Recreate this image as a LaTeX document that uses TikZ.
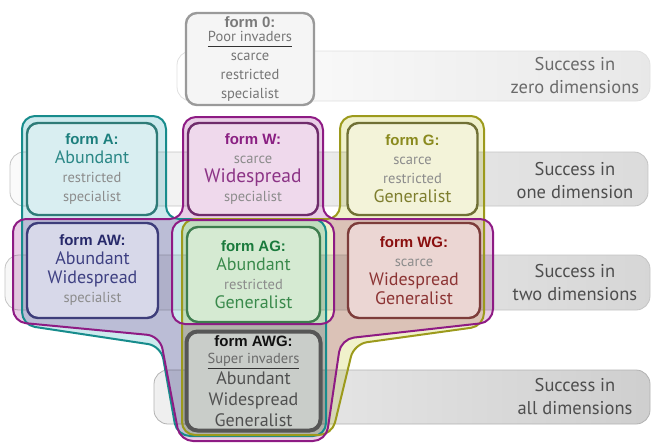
\documentclass[tikz,border=0pt]{standalone}
\usepackage{fontspec}
\setmainfont{PT Sans}
\newfontfamily\headfont{Liberation Sans}

% Group outlines.
\definecolor{tealline}{HTML}{178C8C}
\definecolor{tealfill}{HTML}{CDEAEE}
\definecolor{purpline}{HTML}{8E1B84}
\definecolor{purpfill}{HTML}{E9CEE6}
\definecolor{oliveline}{HTML}{9C9A1C}
\definecolor{olivefill}{HTML}{F0F1CB}
% Form boxes: line, fill, head and trait colours.
\definecolor{Aline}{HTML}{2F7B78}\definecolor{Afill}{HTML}{D9EEF1}
\definecolor{Ahead}{HTML}{1C7F7D}\definecolor{Atrait}{HTML}{2A8786}
\definecolor{Wline}{HTML}{6F2C6B}\definecolor{Wfill}{HTML}{EFD9EC}
\definecolor{Whead}{HTML}{8A1F82}\definecolor{Wtrait}{HTML}{8C3486}
\definecolor{Gline}{HTML}{707035}\definecolor{Gfill}{HTML}{F3F3D9}
\definecolor{Ghead}{HTML}{8A8A1E}\definecolor{Gtrait}{HTML}{7E7E2E}
\definecolor{AWline}{HTML}{3D3D7A}\definecolor{AWfill}{HTML}{D7D8E9}
\definecolor{AWhead}{HTML}{27296A}\definecolor{AWtrait}{HTML}{3E4082}
\definecolor{AGline}{HTML}{3E7D4E}\definecolor{AGfill}{HTML}{D5EAD2}
\definecolor{AGhead}{HTML}{1A7A3C}\definecolor{AGtrait}{HTML}{3A8A4C}
\definecolor{WGline}{HTML}{7D3C3A}\definecolor{WGfill}{HTML}{EBD6D3}
\definecolor{WGhead}{HTML}{8A0F0F}\definecolor{WGtrait}{HTML}{8C3434}
\definecolor{AWGline}{HTML}{565656}\definecolor{AWGfill}{HTML}{C9CDC9}
\definecolor{AWGhead}{HTML}{111111}\definecolor{AWGtrait}{HTML}{505050}
\definecolor{Zeroline}{HTML}{9A9A9A}\definecolor{Zerofill}{HTML}{F5F5F5}
\definecolor{Zerohead}{HTML}{7A7A7A}\definecolor{Zerotrait}{HTML}{767676}
\definecolor{weakgray}{HTML}{8C8C8C}
\definecolor{bandline}{HTML}{C4C4C4}
\definecolor{bandtext}{HTML}{4E4E4E}

% Text of the form boxes.
\newcommand\formhead[2]{{\headfont\bfseries\fontsize{15}{19}\selectfont\color{#1}#2}}
\newcommand\trait[2]{{\fontsize{18}{19}\selectfont\color{#1}#2}}
\newcommand\weak[1]{{\fontsize{14.5}{19}\selectfont\color{weakgray}#1}}
\newcommand\invaders[1]{\leavevmode\setbox0=\hbox{#1}%
  \rlap{\color{black!80}\rule[-6pt]{\wd0}{1.2pt}}\box0}

\usetikzlibrary{
  calc
}
\tikzset{
  globals/box width/.initial=130pt,
  globals/box height/.initial=92pt,
%
  % For the bands of success.
  band/.style={
    draw=bandline,
    line width=0.8pt,
    rounded corners=14pt,
    shading angle=90},
%
  % For the text in the bands.
  band text/.style={
    align=center,
    text=bandtext,
    font={\fontsize{18.5}{23}\selectfont}},
%
  % For the group fills; they multiply where they overlap.
  group fill/.style={
    fill=#1,
    blend mode=multiply,
    rounded corners=13pt},
%
  % For the group outlines.
  group line/.style={
    draw=#1,
    line width=2pt,
    rounded corners=13pt},
%
  % For the form boxes.
  form box/.style={
    draw=#1line,
    fill=#1fill,
    line width=2.4pt,
    rounded corners=11pt,
    minimum width=\pgfkeysvalueof{/tikz/globals/box width},
    minimum height=\pgfkeysvalueof{/tikz/globals/box height},
    inner sep=0pt,
    align=center,
    font={\fontsize{14.5}{19}\selectfont}}
}

\begin{document}
\begin{tikzpicture}[x=1pt,y=-1pt]
  \useasboundingbox (0,0) rectangle (652,442);

  % Bands, one for each level of success.
  \draw[band, left color=white, right color=black!9, draw=black!12]
    (177,51) rectangle (650,101);
  \draw[band, left color=black!2, right color=black!14]
    (10,152) rectangle (648,206);
  \draw[band, left color=black!3, right color=black!16]
    (5,255) rectangle (650,310);
  \draw[band, left color=black!6, right color=black!19, draw=black!30]
    (154,370) rectangle (650,424);

  \node[band text, text=black!58] (level0) at (575,76) {Success in\\zero dimensions};
  \node[band text] (level1) at (575,180.5) {Success in\\one dimension};
  \node[band text] (level2) at (575,283) {Success in\\two dimensions};
  \node[band text] (level3) at (575,396.5) {Success in\\all dimensions};

  % Groups: Abundant, Widespread and Generalist.
  \def\groupA{(22,116) -- (166,116) -- (166,219) -- (326,219) -- (326,436)
    -- (177,436) -- (161,346) -- (22,325) -- cycle}
  \def\groupW{(13,219) -- (183,219) -- (183,117) -- (323,117) -- (323,219)
    -- (493,219) -- (493,322) -- (341,339) -- (326,441) -- (180,441)
    -- (160,336) -- (13,322) -- cycle}
  \def\holeW{(172,220) rectangle (334,324)}
  \def\groupG{(182,219) -- (340,219) -- (340,116) -- (484,116) -- (484,326)
    -- (354,344) -- (332,435) -- (182,435) -- cycle}

  \fill[group fill=tealfill] \groupA;
  \fill[group fill=purpfill, even odd rule] \groupW \holeW;
  \fill[group fill=olivefill] \groupG;

  \draw[group line=tealline] \groupA;
  \draw[group line=oliveline] \groupG;
  \draw[group line=purpline] \groupW \holeW;

  % Forms.
  \node[form box=Zero, minimum width=128pt] (form0) at (250,59)
    {\formhead{Zerohead}{form 0:}\\[-5pt]
     \textcolor{Zerotrait}{\invaders{Poor invaders}}\\
     \textcolor{Zerotrait}{scarce}\\
     \textcolor{Zerotrait}{restricted}\\
     \textcolor{Zerotrait}{specialist}};

  \node[form box=A] (formA) at (92,169)
    {\formhead{Ahead}{form A:}\\
     \trait{Atrait}{Abundant}\\
     \weak{restricted}\\
     \weak{specialist}};
  \node[form box=W] (formW) at (253,169)
    {\formhead{Whead}{form W:}\\
     \weak{scarce}\\
     {\fontsize{19.5}{19}\selectfont\color{Wtrait}Widespread}\\
     \weak{specialist}};
  \node[form box=G] (formG) at (412.5,169)
    {\formhead{Ghead}{form G:}\\
     \weak{scarce}\\
     \weak{restricted}\\
     \trait{Gtrait}{Generalist}};

  \node[form box=AW, minimum width=131pt, minimum height=95pt] (formAW) at (92.5,270.5)
    {\formhead{AWhead}{form AW:}\\
     \trait{AWtrait}{Abundant}\\
     \trait{AWtrait}{Widespread}\\
     \weak{specialist}};
  \node[form box=AG, minimum width=133pt, minimum height=95pt] (formAG) at (253.5,274.5)
    {\formhead{AGhead}{form AG:}\\
     \trait{AGtrait}{Abundant}\\
     \weak{restricted}\\
     \trait{AGtrait}{Generalist}};
  \node[form box=WG, minimum width=132pt, minimum height=95pt] (formWG) at (414,270.5)
    {\formhead{WGhead}{form WG:}\\
     \weak{scarce}\\
     \trait{WGtrait}{Widespread}\\
     \trait{WGtrait}{Generalist}};

  \node[form box=AWG, line width=4pt, minimum width=134pt, minimum height=99pt,
        font={\fontsize{14.5}{21}\selectfont}] (formAWG) at (253.5,381)
    {\formhead{AWGhead}{form AWG:}\\[-4pt]
     \textcolor{AWGtrait!85}{\invaders{Super invaders}}\\
     \trait{AWGtrait}{Abundant}\\
     \trait{AWGtrait}{Widespread}\\
     \trait{AWGtrait}{Generalist}};
\end{tikzpicture}
\end{document}
